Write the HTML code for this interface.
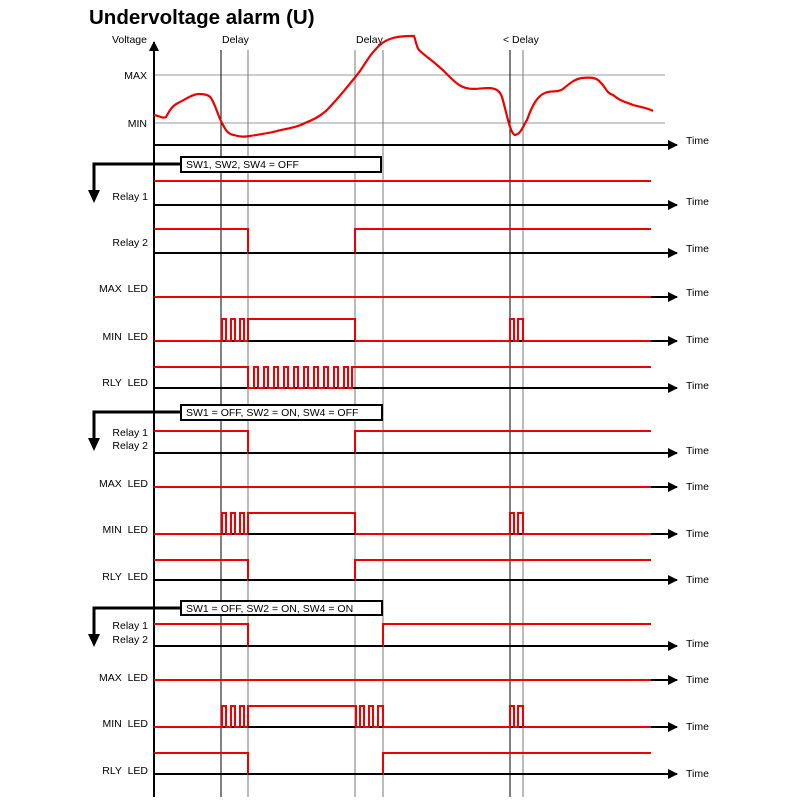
<!DOCTYPE html>
<html><head><meta charset="utf-8"><style>
body{margin:0;background:#fff;}
svg{display:block;font-family:"Liberation Sans",Arial,sans-serif;}
</style></head><body>
<svg width="800" height="800" viewBox="0 0 800 800" xmlns="http://www.w3.org/2000/svg">
<defs><marker id="ah" markerWidth="10" markerHeight="10" refX="9" refY="5" orient="auto" markerUnits="userSpaceOnUse"><path d="M0,0 L10,5 L0,10 Z" fill="#000"/></marker></defs>
<text x="89" y="24" font-size="20.5" font-weight="bold">Undervoltage alarm (U)</text>
<g font-size="10.5" fill="#000">
<text x="147" y="43" text-anchor="end">Voltage</text>
<text x="147" y="79" text-anchor="end">MAX</text>
<text x="147" y="127" text-anchor="end">MIN</text>
<text x="222" y="43">Delay</text>
<text x="356" y="43">Delay</text>
<text x="503" y="43">&lt; Delay</text>
</g>
<line x1="154" y1="75" x2="665" y2="75" stroke="#777" stroke-width="0.8"/>
<line x1="154" y1="123" x2="665" y2="123" stroke="#777" stroke-width="0.8"/>
<g stroke-width="1">
<line x1="221" y1="50" x2="221" y2="797" stroke="#000"/>
<line x1="248" y1="50" x2="248" y2="797" stroke="#777"/>
<line x1="355" y1="50" x2="355" y2="797" stroke="#777"/>
<line x1="383" y1="50" x2="383" y2="797" stroke="#777"/>
<line x1="510" y1="50" x2="510" y2="797" stroke="#000"/>
<line x1="523" y1="50" x2="523" y2="797" stroke="#777"/>
</g>
<line x1="154" y1="797" x2="154" y2="42" stroke="#000" stroke-width="2" marker-end="url(#ah)"/>
<g stroke="#000" stroke-width="2" marker-end="url(#ah)">
<line x1="154" y1="145" x2="677" y2="145"/>
<line x1="154" y1="205" x2="677" y2="205"/>
<line x1="154" y1="253" x2="677" y2="253"/>
<line x1="154" y1="297" x2="677" y2="297"/>
<line x1="154" y1="341" x2="677" y2="341"/>
<line x1="154" y1="388" x2="677" y2="388"/>
<line x1="154" y1="453" x2="677" y2="453"/>
<line x1="154" y1="487" x2="677" y2="487"/>
<line x1="154" y1="534" x2="677" y2="534"/>
<line x1="154" y1="580" x2="677" y2="580"/>
<line x1="154" y1="646" x2="677" y2="646"/>
<line x1="154" y1="680" x2="677" y2="680"/>
<line x1="154" y1="727" x2="677" y2="727"/>
<line x1="154" y1="774" x2="677" y2="774"/>
</g>
<g font-size="10.5">
<text x="686" y="144">Time</text><text x="686" y="205">Time</text><text x="686" y="252">Time</text>
<text x="686" y="296">Time</text><text x="686" y="343">Time</text><text x="686" y="389">Time</text>
<text x="686" y="454">Time</text><text x="686" y="490">Time</text><text x="686" y="537">Time</text>
<text x="686" y="583">Time</text><text x="686" y="647">Time</text><text x="686" y="683">Time</text>
<text x="686" y="730">Time</text><text x="686" y="777">Time</text>
</g>
<g font-size="10.5" text-anchor="end" style="white-space:pre">
<text x="148" y="200">Relay 1</text>
<text x="148" y="246">Relay 2</text>
<text x="148" y="292" xml:space="preserve">MAX  LED</text>
<text x="148" y="340" xml:space="preserve">MIN  LED</text>
<text x="148" y="386" xml:space="preserve">RLY  LED</text>
<text x="148" y="436">Relay 1</text>
<text x="148" y="449">Relay 2</text>
<text x="148" y="487" xml:space="preserve">MAX  LED</text>
<text x="148" y="533" xml:space="preserve">MIN  LED</text>
<text x="148" y="580" xml:space="preserve">RLY  LED</text>
<text x="148" y="629">Relay 1</text>
<text x="148" y="643">Relay 2</text>
<text x="148" y="681" xml:space="preserve">MAX  LED</text>
<text x="148" y="727" xml:space="preserve">MIN  LED</text>
<text x="148" y="774" xml:space="preserve">RLY  LED</text>
</g>
<g stroke="#000" stroke-width="3" fill="none">
<polyline points="182,164 94,164 94,192"/>
<polyline points="182,412 94,412 94,440"/>
<polyline points="182,608 94,608 94,636"/>
</g>
<g fill="#000">
<path d="M88,190 L100,190 L94,203 Z"/>
<path d="M88,438 L100,438 L94,451 Z"/>
<path d="M88,634 L100,634 L94,647 Z"/>
</g>
<g fill="#fff" stroke="#000" stroke-width="2">
<rect x="181" y="157" width="200" height="15"/>
<rect x="181" y="405" width="201" height="15"/>
<rect x="181" y="601" width="201" height="14"/>
</g>
<g font-size="10.5">
<text x="186" y="168">SW1, SW2, SW4 = OFF</text>
<text x="186" y="416">SW1 = OFF, SW2 = ON, SW4 = OFF</text>
<text x="186" y="612">SW1 = OFF, SW2 = ON, SW4 = ON</text>
</g>
<path d="M154,115 C160,116 163,119 166,117 C170,110 172,106 178,103 C186,99 193,94 199,94 C205,94 209,95 211,98 C216,106 218,116 222,123 C226,131 228,134 234,135 C240,137 244,137 250,136 C262,134 270,133 277,131 C290,128 298,127 305,123 C315,119 320,116 326,111 C338,99 348,86 357,75 C365,65 368,57 375,50 C381,43 386,40 393,38 C400,36 408,36 414,36 C416,41 416,46 419,50 C425,56 432,60 437,65 C447,73 453,82 461,86 C470,91 480,88 490,88 C498,89 500,92 502,97 C506,110 510,134 515,135 C521,134 523,126 527,120 C532,106 537,96 545,93 C552,90 557,93 563,89 C570,83 575,79 582,78 C592,77 597,78 600,82 C606,87 606,93 613,95 C620,101 626,102 633,105 C640,107 648,108 653,111" fill="none" stroke="#e00" stroke-width="2.2"/>
<g fill="none" stroke="#e00" stroke-width="2">
<line x1="154" y1="181" x2="651" y2="181"/>
<polyline points="154,229 248,229 248,253 355,253 355,229 651,229"/>
<line x1="154" y1="297" x2="651" y2="297"/>
<polyline points="154,341 222,341 222,319 226,319 226,341 231,341 231,319 235,319 235,341 240,341 240,319 244,319 244,341 248,341 248,319 355,319 355,341 510,341 510,319 514,319 514,341 518,341 518,319 523,319 523,341 651,341"/>
<polyline points="154,367 248,367 248,388 254,388 254,367 258,367 258,388 264,388 264,367 268,367 268,388 274,388 274,367 278,367 278,388 284,388 284,367 288,367 288,388 294,388 294,367 298,367 298,388 304,388 304,367 308,367 308,388 314,388 314,367 318,367 318,388 324,388 324,367 328,367 328,388 334,388 334,367 338,367 338,388 344,388 344,367 348,367 348,388 352,388 352,367 651,367"/>
<polyline points="154,431 248,431 248,453 355,453 355,431 651,431"/>
<line x1="154" y1="487" x2="651" y2="487"/>
<polyline points="154,534 222,534 222,513 226,513 226,534 231,534 231,513 235,513 235,534 240,534 240,513 244,513 244,534 248,534 248,513 355,513 355,534 510,534 510,513 514,513 514,534 518,534 518,513 523,513 523,534 651,534"/>
<polyline points="154,560 248,560 248,580 355,580 355,560 651,560"/>
<polyline points="154,624 248,624 248,646 383,646 383,624 651,624"/>
<line x1="154" y1="680" x2="651" y2="680"/>
<polyline points="154,727 222,727 222,706 226,706 226,727 231,727 231,706 235,706 235,727 240,727 240,706 244,706 244,727 248,727 248,706 356,706 356,727 360,727 360,706 364,706 364,727 369,727 369,706 373,706 373,727 378,727 378,706 383,706 383,727 510,727 510,706 514,706 514,727 518,727 518,706 523,706 523,727 651,727"/>
<polyline points="154,753 248,753 248,774 383,774 383,753 651,753"/>
</g>
<g stroke="#000" stroke-width="2">
<line x1="248" y1="253" x2="355" y2="253"/>
<line x1="248" y1="341" x2="355" y2="341"/>
<line x1="248" y1="453" x2="355" y2="453"/>
<line x1="248" y1="534" x2="355" y2="534"/>
<line x1="248" y1="580" x2="355" y2="580"/>
<line x1="248" y1="646" x2="383" y2="646"/>
<line x1="248" y1="727" x2="355" y2="727"/>
<line x1="248" y1="774" x2="383" y2="774"/>
</g>
</svg>
</body></html>
